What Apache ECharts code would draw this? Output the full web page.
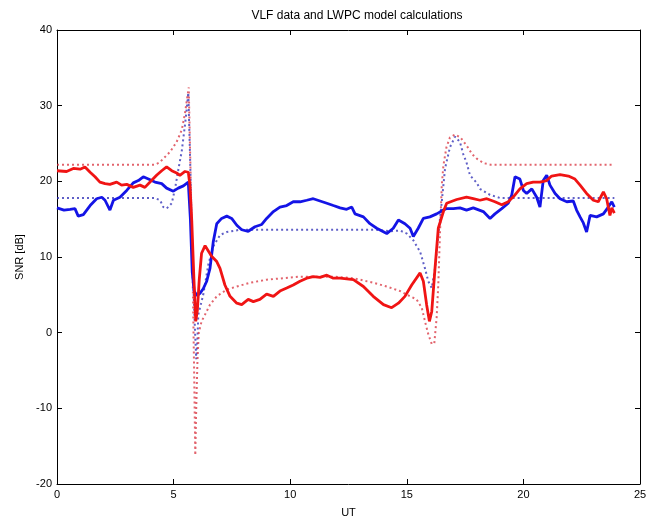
<!DOCTYPE html>
<html>
<head>
<meta charset="utf-8">
<script src="https://cdn.jsdelivr.net/npm/echarts@6/dist/echarts.min.js"></script>
<style>
	html, body { margin: 0; padding: 0; background: #fff; }
	#chart { width: 655px; height: 523px; }
</style>
</head>
<body>
<div id="chart"></div>
<script>
// measured data (solid lines)
var blueData = [
	[0, 16.5], [0.3, 16.2], [0.56, 16.3], [0.77, 16.4], [0.91, 15.4], [1.13, 15.6], [1.42, 16.8], [1.7, 17.7],
	[1.92, 17.9], [2.06, 17.5], [2.27, 16.2], [2.42, 17.5], [2.7, 17.9], [2.99, 18.8], [3.27, 19.8], [3.49, 20.1],
	[3.7, 20.6], [3.92, 20.3], [4.2, 19.9], [4.49, 19.7], [4.7, 19.1], [4.99, 18.7], [5.2, 19.1], [5.42, 19.4],
	[5.63, 19.9], [5.72, 15], [5.8, 8], [5.88, 5.5], [6.0, 4.9], [6.13, 5.2], [6.27, 5.8], [6.42, 6.8],
	[6.56, 8.5], [6.7, 12.0], [6.85, 14.4], [7.06, 15.1], [7.28, 15.4], [7.49, 15.1], [7.71, 14.2], [7.92, 13.6],
	[8.2, 13.4], [8.49, 14.0], [8.78, 14.3], [8.99, 15.1], [9.28, 16.0], [9.56, 16.6], [9.85, 16.8], [10.13, 17.3],
	[10.42, 17.3], [10.71, 17.5], [10.99, 17.7], [11.28, 17.4], [11.57, 17.1], [11.85, 16.8], [12.14, 16.5], [12.42, 16.3],
	[12.64, 16.6], [12.78, 15.7], [13.14, 15.3], [13.42, 14.4], [13.71, 13.8], [14.14, 13.1], [14.42, 13.8], [14.64, 14.9],
	[14.92, 14.4], [15.14, 13.8], [15.28, 12.7], [15.49, 13.8], [15.71, 15.1], [15.99, 15.3], [16.28, 15.7], [16.57, 16.2],
	[16.71, 16.4], [17.0, 16.4], [17.28, 16.5], [17.56, 16.2], [17.85, 16.5], [18.28, 16.0], [18.57, 15.1], [18.78, 15.7],
	[19.07, 16.4], [19.35, 17.1], [19.5, 18.2], [19.64, 20.6], [19.85, 20.3], [20.0, 18.8], [20.14, 18.4], [20.36, 19.0],
	[20.57, 17.9], [20.71, 16.6], [20.85, 20.1], [21.0, 20.8], [21.14, 19.5], [21.36, 18.4], [21.57, 17.7], [21.86, 17.3],
	[22.14, 17.4], [22.28, 16.2], [22.43, 15.3], [22.57, 14.5], [22.71, 13.3], [22.86, 15.5], [23.14, 15.3], [23.43, 15.7],
	[23.64, 16.6], [23.79, 17.3], [23.9, 16.6]
];

var redData = [
	[0, 21.4], [0.41, 21.3], [0.7, 21.7], [0.99, 21.6], [1.2, 21.9], [1.42, 21.2], [1.63, 20.6], [1.84, 19.9],
	[2.06, 19.7], [2.27, 19.6], [2.56, 19.9], [2.77, 19.5], [2.99, 19.6], [3.27, 19.2], [3.56, 19.5], [3.77, 19.2],
	[3.99, 19.9], [4.27, 20.8], [4.49, 21.4], [4.7, 21.9], [4.92, 21.4], [5.13, 21.1], [5.27, 20.8], [5.49, 21.3],
	[5.63, 21.2], [5.7, 19.5], [5.78, 14.7], [5.87, 7.2], [5.95, 1.5], [6.02, 3], [6.1, 7], [6.2, 10.5],
	[6.35, 11.5], [6.63, 10.1], [6.85, 9.4], [6.99, 8.5], [7.2, 6.3], [7.42, 4.8], [7.71, 3.9], [7.92, 3.7],
	[8.2, 4.4], [8.42, 4.1], [8.7, 4.4], [8.99, 5.1], [9.28, 4.8], [9.56, 5.5], [9.85, 5.9], [10.13, 6.3],
	[10.42, 6.8], [10.71, 7.2], [10.99, 7.4], [11.28, 7.3], [11.57, 7.6], [11.85, 7.2], [12.14, 7.2], [12.71, 7.0],
	[13.14, 6.1], [13.56, 4.8], [14.0, 3.7], [14.35, 3.3], [14.64, 3.9], [14.92, 4.8], [15.21, 6.3], [15.57, 7.9],
	[15.71, 6.8], [15.85, 3.7], [15.97, 1.5], [16.07, 2.8], [16.21, 8.5], [16.35, 13.8], [16.57, 16.0], [16.71, 17.1],
	[17.14, 17.6], [17.56, 17.9], [17.85, 17.7], [18.14, 17.5], [18.43, 17.7], [18.78, 17.3], [19.07, 16.9], [19.35, 17.3],
	[19.64, 18.2], [19.85, 19.0], [20.14, 19.7], [20.42, 19.9], [20.71, 19.9], [21.0, 20.1], [21.21, 20.7], [21.57, 20.9],
	[21.93, 20.7], [22.21, 20.3], [22.43, 19.5], [22.71, 18.4], [23.0, 17.5], [23.21, 17.3], [23.43, 18.6], [23.57, 17.7],
	[23.71, 15.5], [23.79, 16.5], [23.9, 15.8]
];

// LWPC model (dotted lines)
var blueModel = [
	[0, 17.8], [2, 17.8], [4.2, 17.8], [4.42, 17.5], [4.56, 16.6], [4.7, 16.4], [4.92, 17.1], [5.06, 19],
	[5.2, 21.5], [5.35, 24], [5.49, 27.5], [5.56, 29.5], [5.63, 31.7], [5.7, 24], [5.78, 14], [5.85, 6],
	[5.92, 0], [5.97, -3.5], [6.02, -1], [6.06, 2.4], [6.27, 5.0], [6.49, 9.0], [6.7, 11.4], [6.99, 12.9],
	[7.28, 13.3], [7.85, 13.6], [10, 13.6], [13.71, 13.6], [14.28, 13.4], [14.71, 13.5], [15.0, 13.1], [15.28, 12.2],
	[15.57, 10.7], [15.78, 8.5], [15.92, 6.8], [16.07, 5.9], [16.21, 8.5], [16.35, 12.9], [16.5, 17.3], [16.64, 21.7],
	[16.85, 24.5], [17.07, 25.9], [17.28, 25.2], [17.42, 23.6], [17.56, 22.5], [17.71, 20.8], [18.0, 19.8], [18.14, 19.0],
	[18.57, 18.2], [19.0, 17.8], [21, 17.8], [23.9, 17.8]
];

var redModel = [
	[0, 22.2], [2, 22.2], [4.2, 22.2], [4.4, 22.5], [4.56, 23], [4.85, 23.9], [5.13, 25.2], [5.35, 26.8],
	[5.49, 29], [5.58, 31], [5.65, 32.4], [5.7, 25], [5.77, 15], [5.83, 5], [5.88, -5], [5.93, -16.2],
	[5.97, -10], [6.02, -4], [6.08, 0], [6.2, 1.5], [6.35, 2.4], [6.56, 3.7], [6.85, 4.8], [7.28, 5.7],
	[7.71, 6.1], [8.28, 6.6], [8.99, 7.0], [9.7, 7.2], [10.42, 7.4], [11.14, 7.4], [11.85, 7.4], [12.71, 7.2],
	[13.56, 6.6], [14.14, 6.1], [14.71, 5.5], [15.14, 4.8], [15.42, 4.4], [15.64, 3.3], [15.78, 1.5], [15.92, -0.2],
	[16.07, -1.5], [16.18, -1.4], [16.28, 2.0], [16.35, 6.3], [16.42, 12.9], [16.5, 19.5], [16.57, 22.1], [16.7, 24.5],
	[16.85, 25.8], [17.07, 26.2], [17.3, 25.8], [17.57, 24.7], [17.8, 23.6], [18.0, 23.0], [18.3, 22.4], [18.6, 22.2],
	[21, 22.2], [23.9, 22.2]
];

var xTicks = [0, 25, 5];
var yTicks = [-20, 40, 10];

var chart = echarts.init(document.getElementById('chart'));

var font = 'Liberation Sans, Arial, sans-serif';

function boxAxis(range, showLabels) {
	return {
		type: 'value',
		min: range[0],
		max: range[1],
		interval: range[2],
		axisLine: { show: true, onZero: false, lineStyle: { color: '#000', width: 1 } },
		axisTick: { show: true, inside: true, length: 5, lineStyle: { color: '#000' } },
		axisLabel: { show: showLabels, color: '#000', fontSize: 11, fontFamily: font, margin: 5 },
		splitLine: { show: false }
	};
}

var xBottom = boxAxis(xTicks, true);
xBottom.position = 'bottom';
xBottom.name = 'UT';
xBottom.nameLocation = 'middle';
xBottom.nameGap = 23;
xBottom.nameTextStyle = { color: '#000', fontSize: 11, fontFamily: font };
var xTop = boxAxis(xTicks, false);
xTop.position = 'top';

var yLeft = boxAxis(yTicks, true);
yLeft.position = 'left';
yLeft.name = 'SNR [dB]';
yLeft.nameLocation = 'middle';
yLeft.nameGap = 30;
yLeft.nameRotate = 90;
yLeft.nameTextStyle = { color: '#000', fontSize: 11, fontFamily: font };
var yRight = boxAxis(yTicks, false);
yRight.position = 'right';

function line(data, color, dotted, width) {
	return {
		type: 'line',
		data: data,
		xAxisIndex: 0,
		yAxisIndex: 0,
		showSymbol: false,
		silent: true,
		animation: false,
		lineStyle: {
			color: color,
			width: width,
			type: dotted ? [2, 3] : 'solid',
			opacity: dotted ? 0.75 : 1
		}
	};
}

var option = {
	animation: false,
	title: {
		text: 'VLF data and LWPC model calculations',
		left: 352,
		top: 5,
		textAlign: 'center',
		textStyle: { color: '#000', fontSize: 12, fontWeight: 'normal', fontFamily: font }
	},
	grid: { left: 57, right: 15, top: 30, bottom: 36 },
	xAxis: [xBottom, xTop],
	yAxis: [yLeft, yRight],
	series: [
		line(blueModel, '#2a2ab4', true, 2),
		line(redModel, '#d8303c', true, 2),
		line(blueData, '#1414e6', false, 2.8),
		line(redData, '#f01414', false, 2.8)
	]
};

chart.setOption(option);
</script>
</body>
</html>
